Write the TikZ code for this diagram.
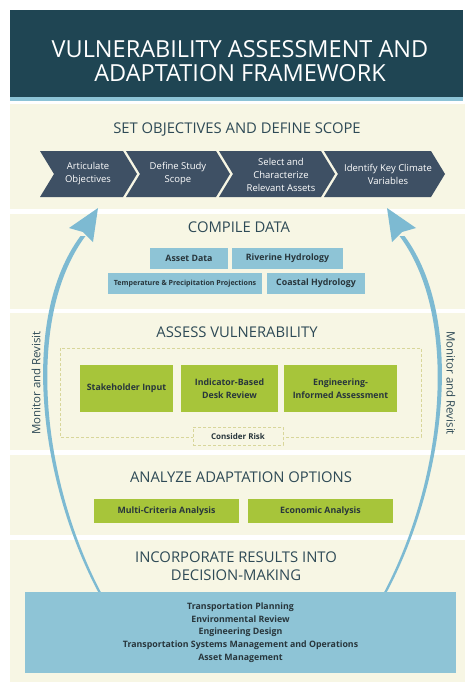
\documentclass[tikz,border=0pt]{standalone}
\usepackage{fontspec}
\setmainfont{Open Sans}
\definecolor{titlebg}{HTML}{1F4553}
\definecolor{strip}{HTML}{8CC3D6}
\definecolor{cream}{HTML}{F7F6E4}
\definecolor{headc}{HTML}{2E4A56}
\definecolor{chevc}{HTML}{3E5064}
\definecolor{boxblue}{HTML}{8EC4D6}
\definecolor{boxgreen}{HTML}{A7C53A}
\definecolor{boxtext}{HTML}{28363C}
\definecolor{arrowc}{HTML}{7DBAD2}
\definecolor{dashc}{HTML}{D8D69A}
\tikzset{
  sec/.style={fill=cream, draw=none},
  heading/.style={text=headc, font=\fontsize{14.8}{18}\selectfont, inner sep=0, align=center},
  chev/.style={fill=chevc, draw=none},
  chevtext/.style={text=white, font=\fontsize{9.5}{13}\selectfont, align=center, inner sep=0},
  bluebox/.style={fill=boxblue, text=boxtext, font=\bfseries\fontsize{8.8}{10}\selectfont, inner sep=0, minimum height=21pt},
  greenbox/.style={fill=boxgreen, text=boxtext, font=\bfseries\fontsize{8.8}{12.5}\selectfont, align=center, inner sep=0},
  dashbox/.style={draw=dashc, line width=0.8pt, dash pattern=on 3pt off 2pt},
  monitor/.style={text=headc, font=\fontsize{11.5}{13}\selectfont, inner sep=0},
  arc/.style={fill=arrowc, draw=none}
}
\begin{document}
\begin{tikzpicture}[x=1pt,y=-1pt]
\useasboundingbox[fill=white] (0,0) rectangle (475,688);
% title
\fill[titlebg] (10,10) rectangle (463,97);
\fill[strip] (10,97) rectangle (463,100.5);
\node[text=white, font=\fontsize{23.5}{24.5}\selectfont, align=center, inner sep=0] (title) at (240,61)
  {VULNERABILITY ASSESSMENT AND\\ADAPTATION FRAMEWORK};
% sections
\fill[sec] (10,104) rectangle (465,209);
\fill[sec] (10,214) rectangle (465,309);
\fill[sec] (10,313) rectangle (465,450);
\fill[sec] (10,455) rectangle (465,535);
\fill[sec] (10,540) rectangle (465,682);

% section 1
\node[heading] (h1) at (237,130) {SET OBJECTIVES AND DEFINE SCOPE};
\fill[chev] (40,151) -- (123,151) -- (137,174) -- (123,197) -- (40,197) -- (54,174) -- cycle;
\fill[chev] (126,151) -- (216,151) -- (230,174) -- (216,197) -- (126,197) -- (140,174) -- cycle;
\fill[chev] (219,151) -- (321,151) -- (335,174) -- (321,197) -- (219,197) -- (233,174) -- cycle;
\fill[chev] (324,151) -- (431,151) -- (445,174) -- (431,197) -- (324,197) -- (338,174) -- cycle;
\node[chevtext] (c1) at (88,174) {Articulate\\Objectives};
\node[chevtext] (c2) at (178,174) {Define Study\\Scope};
\node[chevtext] (c3) at (281,175) {Select and\\Characterize\\Relevant Assets};
\node[chevtext] (c4) at (388,174) {Identify Key Climate\\Variables};

% section 2
\node[heading] (h2) at (239,227) {COMPILE DATA};
\node[bluebox, minimum width=78pt] (asset) at (189,258.5) {Asset Data};
\node[bluebox, minimum width=111pt] (river) at (287.5,258.5) {Riverine Hydrology};
\node[bluebox, minimum width=154pt, font=\bfseries\fontsize{7.1}{9}\selectfont] (temp) at (185,283.5) {Temperature \& Precipitation Projections};
\node[bluebox, minimum width=98pt] (coast) at (316,283.5) {Coastal Hydrology};

% arrows (Monitor and Revisit)
\fill[arc] (98.7,593) .. controls (38.5,480) and (19.5,318) .. (80.5,236) -- (85.5,236) .. controls (24.5,318) and (41.5,480) .. (101.3,593) -- cycle;
\fill[arc] (98,208) -- (69,228) -- (83,232) -- (93,242) -- cycle;
\fill[arc] (386.3,593) .. controls (446.5,480) and (465.5,318) .. (404.5,236) -- (399.5,236) .. controls (460.5,318) and (443.5,480) .. (383.7,593) -- cycle;
\fill[arc] (387,208) -- (416,228) -- (402,232) -- (392,242) -- cycle;
\node[monitor, rotate=90] (mleft) at (36,383) {Monitor and Revisit};
\node[monitor, rotate=-90] (mright) at (451,383) {Monitor and Revisit};

% section 3
\node[heading] (h3) at (237,332) {ASSESS VULNERABILITY};
\draw[dashbox] (60,348) rectangle (421,437);
\node[greenbox, minimum width=93pt, minimum height=47pt] (stake) at (126.5,388.5) {Stakeholder Input};
\node[greenbox, minimum width=97pt, minimum height=47pt] (indic) at (229.5,388.5) {Indicator-Based\\Desk Review};
\node[greenbox, minimum width=113pt, minimum height=47pt] (eng) at (340.5,388.5) {Engineering-\\Informed Assessment};
\node[dashbox, fill=cream, minimum width=90pt, minimum height=18pt, inner sep=0, text=boxtext, font=\bfseries\fontsize{8}{9}\selectfont] (risk) at (238,436) {Consider Risk};

% section 4
\node[heading] (h4) at (241,477) {ANALYZE ADAPTATION OPTIONS};
\node[greenbox, minimum width=145pt, minimum height=24pt] (multi) at (166.5,511) {Multi-Criteria Analysis};
\node[greenbox, minimum width=145pt, minimum height=24pt] (econ) at (320.5,511) {Economic Analysis};

% section 5
\node[heading] (h5) at (236,566) {INCORPORATE RESULTS INTO\\DECISION-MAKING};
\node[fill=boxblue, text=boxtext, font=\bfseries\fontsize{8.8}{12.7}\selectfont, align=center, inner sep=0, minimum width=431pt, minimum height=81pt] (decide) at (240.5,632.5)
  {Transportation Planning\\Environmental Review\\Engineering Design\\Transportation Systems Management and Operations\\Asset Management};
\end{tikzpicture}
\end{document}
